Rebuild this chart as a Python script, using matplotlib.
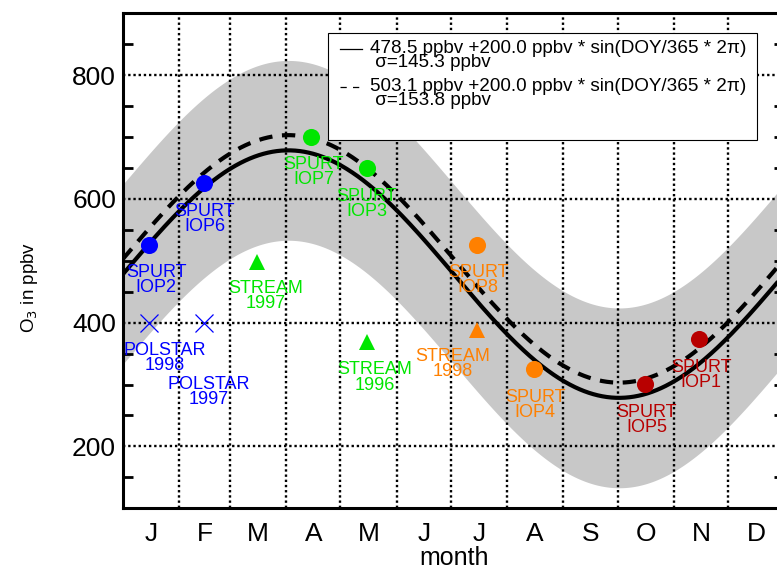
import numpy as np
import matplotlib
matplotlib.use("Agg")
import matplotlib.pyplot as plt
from matplotlib.patches import Rectangle

plt.rcParams['font.family'] = ['Liberation Sans', 'DejaVu Sans']

# ---- data ----
month_labels = ['J', 'F', 'M', 'A', 'M', 'J', 'J', 'A', 'S', 'O', 'N', 'D']
month_starts = [0, 31, 59, 90, 120, 151, 181, 212, 243, 273, 304, 334, 365]

fit_offset = [478.5, 503.1]     # ppbv
fit_amp = [200.0, 200.0]        # ppbv
fit_sigma = [145.3, 153.8]      # ppbv

campaign_labels = ['SPURT\nIOP2', 'SPURT\nIOP6', 'POLSTAR\n1998', 'POLSTAR\n1997',
                   'STREAM\n1997', 'SPURT\nIOP7', 'SPURT\nIOP3', 'STREAM\n1996',
                   'SPURT\nIOP8', 'STREAM\n1998', 'SPURT\nIOP4', 'SPURT\nIOP5',
                   'SPURT\nIOP1']
campaign_doy = [14.5, 44.5, 14.5, 44.5, 74, 104, 134.5, 134.5, 195.5, 195.5, 227, 288, 318]
campaign_o3 = [525, 625, 400, 400, 498, 700, 650, 368, 525, 388, 325, 301, 374]
campaign_marker = ['o', 'o', 'x', 'x', '^', 'o', 'o', '^', 'o', '^', 'o', 'o', 'o']
campaign_color = ['#0000ff', '#0000ff', '#0000ff', '#0000ff',
                  '#00e600', '#00e600', '#00e600', '#00e600',
                  '#ff8000', '#ff8000', '#ff8000', '#b80000', '#b80000']
# label offsets (pixels) relative to the marker
label_dx = [7, 1, 15, 5, 9, 2, 0, 8, 1, -25, 1, 2, 2]
label_dy = [-35, -36, -35, -69, -34, -35, -36, -35, -35, -34, -36, -36, -36]

# ---- figure ----
W, H = 777, 570
fig = plt.figure(figsize=(W / 100, H / 100), dpi=100)
ax_l, ax_r, ax_t, ax_b = 123, 784.4, 13.3, 508.3
ax = fig.add_axes([ax_l / W, 1 - ax_b / H, (ax_r - ax_l) / W, (ax_b - ax_t) / H])

doy = np.linspace(0, 365, 731)
curves = [o + a * np.sin(doy / 365 * 2 * np.pi) for o, a in zip(fit_offset, fit_amp)]

ax.fill_between(doy, curves[0] - fit_sigma[0], curves[0] + fit_sigma[0],
                color='#c8c8c8', lw=0, zorder=1)

ax.plot(doy, curves[0], color='black', lw=3.0, zorder=3, solid_capstyle='butt')
ax.plot(doy, curves[1], color='black', lw=3.0, zorder=3,
        linestyle=(0, (3.2, 2.3)), dash_capstyle='butt')

for x, y, m, c, lab, dx, dy in zip(campaign_doy, campaign_o3, campaign_marker,
                                   campaign_color, campaign_labels, label_dx, label_dy):
    if m == 'x':
        ax.plot(x, y, marker='x', color=c, markersize=13, mew=0.9, zorder=4, ls='none')
    elif m == '^':
        ax.plot(x, y, marker='^', color=c, markersize=12, mew=0, zorder=4, ls='none')
    else:
        ax.plot(x, y, marker='o', color=c, markersize=12.3, mew=0, zorder=4, ls='none')
    ax.annotate(lab, (x, y), xytext=(dx, dy), textcoords='offset pixels',
                ha='center', va='center', color=c, fontsize=13, linespacing=0.85,
                zorder=4)

ax.set_xlim(0, 365)
ax.set_ylim(100, 900)

centers = [(a + b) / 2 for a, b in zip(month_starts[:-1], month_starts[1:])]
ax.set_xticks(centers)
ax.set_xticklabels(month_labels)
ax.set_xticks(month_starts[1:-1], minor=True)
ax.tick_params(axis='x', which='both', length=0, labelsize=19, pad=10)

ax.set_yticks([200, 400, 600, 800])
ax.set_yticks([v for v in range(150, 900, 50) if v % 200 != 0], minor=True)
ax.tick_params(axis='y', which='major', length=0, labelsize=19, pad=5)
ax.tick_params(axis='y', which='minor', length=7, width=2, direction='in',
               left=True, right=True)

grid_kw = dict(color='black', lw=1.7, linestyle=(0, (1.0, 1.2)), zorder=2,
               dash_capstyle='butt')
for xv in month_starts[1:-1]:
    ax.axvline(xv, **grid_kw)
for yv in [200, 400, 600, 800]:
    ax.axhline(yv, **grid_kw)

for s in ax.spines.values():
    s.set_linewidth(2.2)
    s.set_zorder(6)

ax.set_xlabel('month', fontsize=18, labelpad=0)
ax.set_ylabel('O$_3$ in ppbv', fontsize=13.5)


def fx(px):
    return (px - ax_l) / (ax_r - ax_l)


def fy(py):
    return (ax_b - py) / (ax_b - ax_t)


ax.yaxis.set_label_coords(fx(40), fy(287))

# ---- legend (manual, IDL style) ----
ax.add_patch(Rectangle((fx(328), fy(140)), fx(757) - fx(328), fy(33) - fy(140),
                       transform=ax.transAxes, facecolor='white', edgecolor='black',
                       lw=0.8, zorder=5))
leg_styles = ['-', (0, (5, 5))]
leg_y = [49, 87]
for o, a, sg, ls, yy in zip(fit_offset, fit_amp, fit_sigma, leg_styles, leg_y):
    ax.plot([fx(340), fx(362)], [fy(yy), fy(yy)], transform=ax.transAxes,
            color='black', lw=0.9, linestyle=ls, zorder=6)
    ax.text(fx(370), fy(yy - 9),
            f'{o:.1f} ppbv +{a:.1f} ppbv * sin(DOY/365 * 2\u03c0)\n \u03c3={sg:.1f} ppbv',
            transform=ax.transAxes, fontsize=13.6, va='top', ha='left',
            linespacing=0.78, zorder=6)

fig.savefig('out.png', dpi=100)
